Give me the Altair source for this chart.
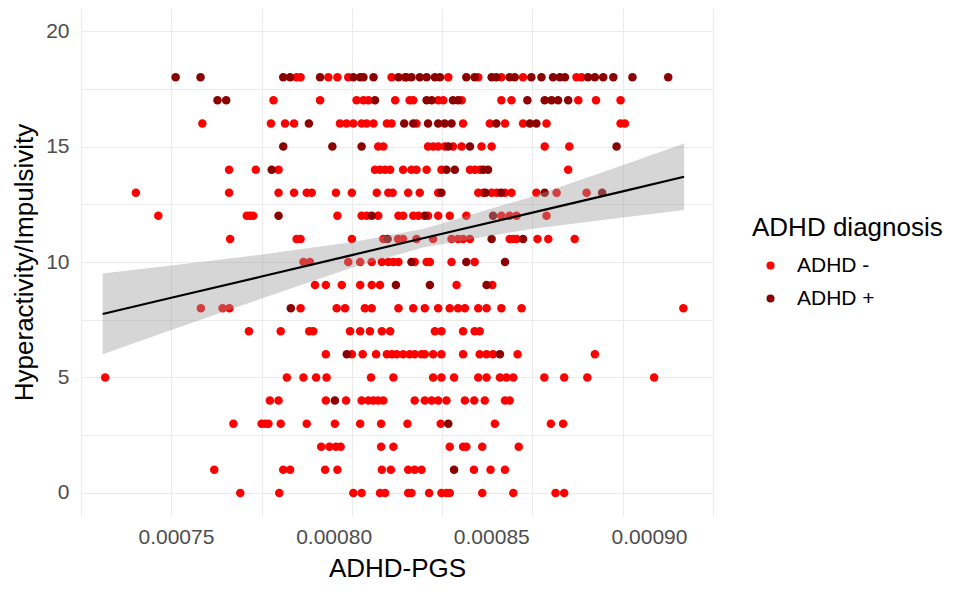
import altair as alt
import pandas as pd

# ADHD-PGS values are written in units of 1e-5 (e.g. 80.25 -> 0.0008025)
UNIT = 1e-5

# Hyperactivity/Impulsivity score -> PGS values, ADHD - (red)
NEG = {
    18: [78.47, 78.58, 79.35, 79.60, 79.90, 81.10, 81.47, 82.67, 83.50, 84.14, 84.74, 86.22, 86.36],
    17: [77.83, 79.12, 80.13, 80.32, 80.46, 81.20, 81.60, 81.70, 82.39, 82.53, 83.04, 84.14, 84.42,
         86.27, 86.76, 87.44],
    16: [75.86, 77.76, 78.15, 78.40, 79.67, 79.85, 80.04, 80.27, 80.41, 80.60, 80.97, 81.10, 81.79,
         83.08, 83.82, 84.24, 84.74, 85.39, 87.44, 87.56],
    15: [80.73, 80.87, 82.11, 82.25, 82.39, 82.57, 82.80, 83.04, 83.59, 83.87, 85.34, 86.02],
    14: [76.60, 77.34, 77.97, 80.64, 80.78, 80.92, 81.06, 81.42, 81.65, 81.79, 82.07, 82.48, 83.27,
         83.41, 83.55, 85.99],
    13: [74.02, 76.60, 77.97, 78.40, 78.75, 78.89, 79.56, 80.00, 80.69, 81.01, 81.13, 81.56, 81.88,
         82.39, 83.50, 83.64, 83.87, 84.01, 84.24, 84.42, 85.11, 85.67, 86.50],
    12: [74.64, 77.09, 77.18, 77.27, 79.60, 80.27, 80.41, 80.73, 81.29, 81.42, 81.70, 81.84, 82.11,
         82.39, 82.71, 83.17, 84.14, 84.37, 84.56, 85.39],
    11: [76.63, 78.47, 78.58, 80.00, 80.87, 81.28, 81.42, 81.79, 82.25, 82.76, 82.94, 83.08, 83.27,
         84.37, 84.47, 84.56, 85.14, 85.44, 86.17],
    10: [78.66, 78.84, 79.90, 80.23, 80.55, 80.83, 81.01, 81.15, 81.29, 81.74, 82.07, 82.16, 82.76,
         83.40],
    9: [78.98, 79.28, 79.72, 80.23, 80.55, 80.78, 82.90, 83.89],
    8: [75.82, 76.42, 76.61, 78.58, 79.58, 79.81, 80.36, 80.55, 81.29, 81.70, 82.02, 82.39, 82.71,
        82.94, 83.13, 83.50, 83.73, 84.14, 84.70, 89.18],
    7: [77.15, 78.03, 78.82, 78.93, 79.95, 80.23, 80.50, 80.83, 81.06, 82.30, 82.48, 83.08, 83.40,
        83.54],
    6: [79.28, 80.00, 80.30, 80.67, 80.97, 81.11, 81.24, 81.42, 81.60, 81.74, 81.93, 82.02, 82.25,
        82.48, 83.08, 83.54, 83.73, 83.91, 84.59, 86.73],
    5: [73.17, 78.20, 78.66, 79.01, 79.30, 80.53, 81.15, 82.25, 82.48, 82.83, 83.50, 83.73, 84.10,
        84.28, 84.47, 85.33, 85.88, 86.52, 88.37],
    4: [77.73, 77.97, 79.28, 79.84, 80.27, 80.46, 80.60, 80.73, 80.87, 81.74, 82.02, 82.21, 82.39,
        82.62, 83.13, 83.39, 83.68, 84.24, 84.37],
    3: [76.72, 77.50, 77.60, 77.69, 78.03, 78.75, 79.53, 80.23, 80.81, 81.54, 82.46, 83.96, 85.51,
        85.85],
    2: [79.15, 79.38, 79.56, 79.69, 80.81, 81.15, 82.71, 83.08, 83.17, 83.61, 84.62],
    1: [76.19, 78.10, 78.29, 79.26, 79.60, 80.83, 81.08, 81.56, 81.74, 81.93, 83.38, 83.84, 84.24],
    0: [76.91, 77.99, 80.04, 80.27, 80.78, 80.92, 81.56, 81.65, 82.14, 82.48, 82.62, 82.71, 83.61,
        84.47, 85.64, 85.88],
}

# ADHD + (dark red)
POS = {
    18: [75.12, 75.81, 78.10, 78.29, 79.12, 80.04, 80.23, 80.32, 80.60, 81.29, 81.51, 81.65, 81.88,
         82.07, 82.30, 82.44, 83.17, 83.40, 83.87, 84.00, 84.37, 84.51, 84.97, 85.25, 85.57, 85.76,
         85.90, 86.54, 86.73, 86.96, 87.24, 87.77, 88.76],
    17: [76.28, 76.52, 80.64, 82.07, 82.21, 82.80, 82.94, 84.86, 85.34, 85.53, 85.71, 85.99],
    16: [78.81, 81.45, 81.70, 82.11, 82.39, 82.57, 82.76, 84.00, 84.93, 85.11],
    15: [78.10, 79.46, 80.27, 82.67, 83.27, 87.33],
    14: [77.78, 82.62, 82.85, 83.64, 83.77],
    13: [82.48, 83.70, 84.13, 85.34, 86.93],
    12: [77.97, 80.55, 82.02, 83.91],
    11: [80.99, 83.87, 84.74],
    10: [81.65, 83.17, 84.24],
    9: [81.22, 82.16, 83.73],
    8: [78.31],
    6: [79.86, 84.10],
    4: [79.53],
    3: [82.67],
    1: [82.83],
}

GROUPS = ["ADHD -", "ADHD +"]
COLORS = ["#FF0000", "#8B0000"]

# linear fit with 95% band
SM_X = [73.1, 75.0, 77.5, 80.0, 82.0, 85.0, 87.5, 89.2]
SM_FIT = [7.75, 8.45, 9.37, 10.30, 11.04, 12.14, 13.06, 13.69]
SM_LO = [6.00, 7.05, 8.42, 9.75, 10.64, 11.44, 11.93, 12.25]
SM_HI = [9.50, 9.85, 10.32, 10.85, 11.44, 12.84, 14.19, 15.13]

# grid lines (major + minor) and the labelled tick values
X_GRID = [0.000725, 0.00075, 0.000775, 0.0008, 0.000825, 0.00085, 0.000875, 0.0009]
Y_GRID = [0, 2.5, 5, 7.5, 10, 12.5, 15, 17.5, 20]
X_LABELS = [0.00075, 0.0008, 0.00085, 0.0009]
# the tick labels in the picture sit on their own spacing (not on the grid lines)
X_LABEL_DOMAIN = [0.0007199, 0.0009203]

rows = []
for grp, src in zip(GROUPS, [NEG, POS]):
    for score, xs in src.items():
        for v in xs:
            rows.append({"pgs": v * UNIT, "hyp": score, "dx": grp})
pts = pd.DataFrame(rows)

sm = pd.DataFrame({
    "pgs": [v * UNIT for v in SM_X],
    "fit": SM_FIT,
    "lo": SM_LO,
    "hi": SM_HI,
})

labs = pd.DataFrame({"tick": X_LABELS})

FONT = "Liberation Sans"
XT = "ADHD-PGS"
YT = "Hyperactivity/Impulsivity"

xscale = alt.Scale(domain=[0.000725, 0.0009], nice=False, zero=False)
yscale = alt.Scale(domain=[-1, 21], nice=False, zero=False)

xaxis = alt.Axis(values=X_GRID, labels=False, title=None, orient="bottom")
yaxis = alt.Axis(
    values=Y_GRID,
    labelExpr="datum.value % 5 == 0 ? datum.label : ''",
    labelPadding=12,
    titlePadding=8,
)

points = alt.Chart(pts).mark_circle(size=72, opacity=1).encode(
    x=alt.X("pgs:Q", scale=xscale, axis=xaxis),
    y=alt.Y("hyp:Q", scale=yscale, axis=yaxis, title=YT),
    color=alt.Color(
        "dx:N",
        scale=alt.Scale(domain=GROUPS, range=COLORS),
        legend=alt.Legend(
            title="ADHD diagnosis",
            orient="none",
            legendX=671,
            legendY=207,
            padding=0,
            titleFontSize=26,
            titleFont=FONT,
            titleFontWeight="normal",
            titleColor="black",
            titlePadding=14,
            titleLimit=400,
            labelFontSize=21,
            labelFont=FONT,
            labelColor="black",
            labelLimit=300,
            symbolType="circle",
            symbolSize=64,
            symbolOffset=8,
            labelOffset=16,
            rowPadding=11,
            symbolStrokeWidth=0,
        ),
    ),
)

band = alt.Chart(sm).mark_area(color="#999999", opacity=0.4).encode(
    x=alt.X("pgs:Q", scale=xscale, axis=xaxis),
    y=alt.Y("lo:Q", scale=yscale, title=YT),
    y2="hi:Q",
)

line = alt.Chart(sm).mark_line(color="black", strokeWidth=2.2).encode(
    x=alt.X("pgs:Q", scale=xscale, axis=xaxis),
    y=alt.Y("fit:Q", scale=yscale, title=YT),
)

# invisible layer that carries the labelled x axis
label_axis = alt.Chart(labs).mark_point(opacity=0).encode(
    x=alt.X(
        "tick:Q",
        scale=alt.Scale(domain=X_LABEL_DOMAIN, nice=False, zero=False),
        axis=alt.Axis(
            orient="bottom",
            values=X_LABELS,
            format=".5f",
            grid=False,
            labelFlush=False,
            labelPadding=10,
            titlePadding=8,
        ),
        title=XT,
    ),
    y=alt.value(0),
)

chart = (
    alt.layer(points, band, line, label_axis)
    .resolve_scale(x="independent")
    .properties(
        width=632,
        height=508,
        autosize=alt.AutoSizeParams(type="none"),
        padding={"left": 73, "top": 0, "right": 238, "bottom": 71},
    )
    .configure_view(stroke=None)
    .configure_axis(
        domain=False,
        ticks=False,
        grid=True,
        gridColor="#EBEBEB",
        gridWidth=1.1,
        labelColor="#4D4D4D",
        labelFontSize=21,
        labelFont=FONT,
        titleFont=FONT,
        titleFontSize=26,
        titleFontWeight="normal",
        titleColor="black",
    )
)

chart.save("out.html", embed_options={"renderer": "svg", "actions": False})
